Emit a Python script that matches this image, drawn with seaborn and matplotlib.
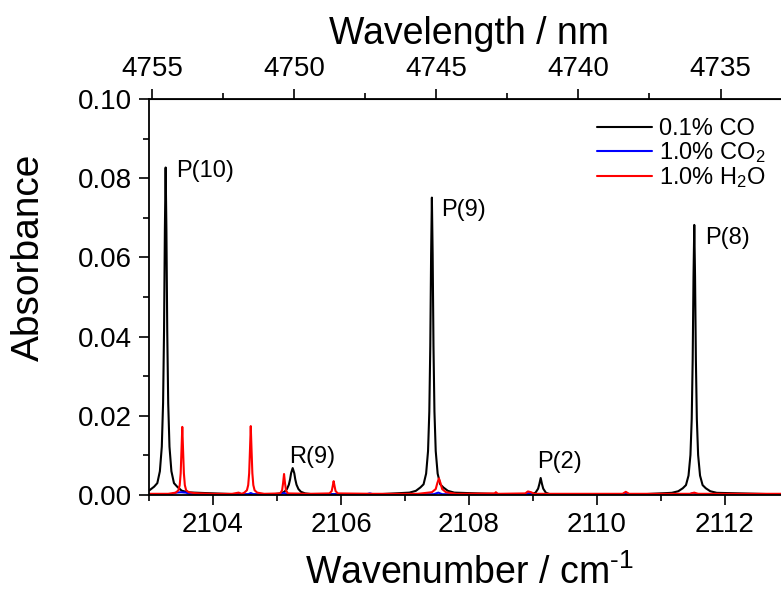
import numpy as np
import pandas as pd
import seaborn as sns
import matplotlib.pyplot as plt
from matplotlib.ticker import MultipleLocator, FixedLocator

# CO absorbance trace (vertices)
co_x = [2103.00, 2103.08, 2103.13, 2103.17, 2103.20, 2103.22, 2103.235, 2103.248, 2103.26,
        2103.272, 2103.285, 2103.30, 2103.32, 2103.35, 2103.39, 2103.44, 2103.51, 2103.61,
        2104.50,
        2104.95, 2105.05, 2105.115, 2105.155, 2105.185, 2105.205, 2105.22, 2105.245,
        2105.27, 2105.285, 2105.305, 2105.335, 2105.375, 2105.44, 2105.55,
        2106.60,
        2107.07, 2107.17, 2107.24, 2107.29, 2107.33, 2107.36, 2107.38, 2107.395, 2107.408,
        2107.42, 2107.432, 2107.445, 2107.46, 2107.48, 2107.51, 2107.55, 2107.60, 2107.67,
        2107.77, 2108.70,
        2108.98, 2109.04, 2109.08, 2109.10, 2109.12, 2109.14, 2109.16, 2109.20, 2109.26,
        2110.60,
        2111.17, 2111.27, 2111.34, 2111.39, 2111.43, 2111.46, 2111.48, 2111.495, 2111.508,
        2111.52, 2111.532, 2111.545, 2111.56, 2111.58, 2111.61, 2111.65, 2111.70, 2111.77,
        2111.87, 2113.00]
co_y = [0.0011, 0.0021, 0.0030, 0.0060, 0.0122, 0.0232, 0.0414, 0.0670, 0.0827,
        0.0670, 0.0414, 0.0232, 0.0122, 0.0060, 0.0030, 0.0021, 0.0011, 0.00066,
        0.0001,
        0.0002, 0.0004, 0.0008, 0.0015, 0.0026, 0.0040, 0.0055, 0.0068,
        0.0055, 0.0040, 0.0026, 0.0015, 0.0008, 0.0004, 0.0002,
        0.0002,
        0.0006, 0.00105, 0.0019, 0.0027, 0.0054, 0.0111, 0.0211, 0.0376, 0.0608,
        0.0751, 0.0608, 0.0376, 0.0211, 0.0111, 0.0054, 0.0027, 0.0019, 0.00105,
        0.0006, 0.0001,
        0.0002, 0.0006, 0.0016, 0.0028, 0.0043, 0.0028, 0.0016, 0.0006, 0.0002,
        0.0001,
        0.00055, 0.00095, 0.0017, 0.0025, 0.0049, 0.0101, 0.0192, 0.0341, 0.0552,
        0.0682, 0.0552, 0.0341, 0.0192, 0.0101, 0.0049, 0.0025, 0.0017, 0.00095,
        0.00055, 0.0001]

# CO2 trace
co2_x = [2103.00, 2103.35, 2103.42, 2103.50, 2103.58, 2103.65, 2104.20, 2104.55, 2104.59,
         2104.63, 2105.05, 2105.11, 2105.16, 2106.40, 2106.45, 2106.50, 2107.45, 2107.52,
         2107.58, 2108.90, 2108.95, 2109.00, 2110.40, 2110.45, 2110.50, 2111.45, 2111.50,
         2111.55, 2113.00]
co2_y = [0.0002, 0.0002, 0.0006, 0.0007, 0.0006, 0.0002, 0.0002, 0.0002, 0.0005,
         0.0002, 0.0002, 0.0005, 0.0002, 0.0002, 0.0004, 0.0002, 0.0002, 0.0006,
         0.0002, 0.0002, 0.0006, 0.0002, 0.0002, 0.0005, 0.0002, 0.0002, 0.0005,
         0.0002, 0.0002]

# H2O trace
h2o_x = [2103.00, 2103.30, 2103.42, 2103.46, 2103.48, 2103.495, 2103.508, 2103.52,
         2103.532, 2103.545, 2103.56, 2103.58, 2103.62, 2103.70, 2103.80, 2104.00, 2104.30,
         2104.40, 2104.45, 2104.49, 2104.53, 2104.55, 2104.565, 2104.578, 2104.59, 2104.602,
         2104.615, 2104.63, 2104.65, 2104.69, 2104.80, 2105.05, 2105.08, 2105.095, 2105.11,
         2105.125, 2105.14, 2105.17, 2105.50, 2105.82, 2105.855, 2105.87, 2105.885, 2105.90,
         2105.915, 2105.95, 2106.50, 2107.20, 2107.42, 2107.48, 2107.505, 2107.53, 2107.555,
         2107.58, 2107.64, 2107.80, 2108.40, 2108.42, 2108.45, 2108.88, 2108.92, 2108.97,
         2109.02, 2109.50, 2110.40, 2110.45, 2110.50, 2111.45, 2111.52, 2111.58, 2113.00]
h2o_y = [0.0003, 0.0003, 0.0006, 0.0012, 0.0025, 0.0055, 0.0115, 0.0172,
         0.0115, 0.0055, 0.0025, 0.0012, 0.0007, 0.0005, 0.0004, 0.0003, 0.0003,
         0.0006, 0.0003, 0.0006, 0.0012, 0.0025, 0.0055, 0.0115, 0.0174, 0.0115,
         0.0055, 0.0025, 0.0012, 0.0006, 0.0003, 0.0004, 0.0012, 0.0030, 0.0053,
         0.0030, 0.0012, 0.0004, 0.0003, 0.0004, 0.0010, 0.0022, 0.0035, 0.0022,
         0.0010, 0.0004, 0.0003, 0.0003, 0.0007, 0.0015, 0.0030, 0.0042, 0.0030,
         0.0015, 0.0007, 0.0003, 0.0004, 0.0007, 0.0003, 0.0004, 0.0009, 0.0007,
         0.0003, 0.0003, 0.0003, 0.0008, 0.0003, 0.0003, 0.0006, 0.0003, 0.0003]

labels = ['P(10)', 'R(9)', 'P(9)', 'P(2)', 'P(8)']
label_x = [2103.42, 2105.19, 2107.56, 2109.07, 2111.69]
label_y = [0.0817, 0.0095, 0.0720, 0.0083, 0.0650]

wl_major = [4755, 4750, 4745, 4740, 4735]
wl_minor = [4752.5, 4747.5, 4742.5, 4737.5, 4732.5]

sns.set_style('ticks')
plt.rcParams['font.family'] = ['Liberation Sans', 'DejaVu Sans']
plt.rcParams['mathtext.fontset'] = 'custom'
plt.rcParams['mathtext.rm'] = 'Liberation Sans'
plt.rcParams['mathtext.default'] = 'regular'
for key in ['text.color', 'axes.labelcolor', 'xtick.color', 'ytick.color', 'axes.edgecolor']:
    plt.rcParams[key] = 'black'

fig = plt.figure(figsize=(7.81, 6.01), dpi=100)
ax = fig.add_axes([149 / 781, 1 - 495 / 601, 640 / 781, 396 / 601])

traces = [
    (co_x, co_y, '0.1% CO', 'black'),
    (co2_x, co2_y, '1.0% CO$_2$', 'blue'),
    (h2o_x, h2o_y, '1.0% H$_2$O', 'red'),
]
for xs, ys, name, color in traces:
    df = pd.DataFrame({'x': xs, 'y': ys})
    sns.lineplot(data=df, x='x', y='y', ax=ax, sort=False, estimator=None,
                 color=color, linewidth=1.5, label=name)

for t, tx, ty in zip(labels, label_x, label_y):
    ax.text(tx, ty, t, fontsize=17, ha='left', va='center')

ax.set_xlim(2103, 2113)
ax.set_ylim(0, 0.10)
ax.xaxis.set_major_locator(MultipleLocator(2))
ax.xaxis.set_minor_locator(MultipleLocator(1))
ax.yaxis.set_major_locator(MultipleLocator(0.02))
ax.yaxis.set_minor_locator(MultipleLocator(0.01))
ax.yaxis.set_major_formatter(plt.FuncFormatter(lambda v, p: f'{v:.2f}'))
ax.tick_params(which='major', direction='out', length=7, width=1.2, labelsize=20, pad=5)
ax.tick_params(which='minor', direction='out', length=4, width=1.2)
ax.set_xlabel('Wavenumber / cm$^{\\text{-1}}$', fontsize=27, labelpad=12)
ax.set_ylabel('Absorbance', fontsize=28)
ax.yaxis.set_label_coords(-0.16, 0.6)
for s in ax.spines.values():
    s.set_linewidth(1.3)

top = ax.secondary_xaxis('top', functions=(lambda x: 1e7 / x, lambda x: 1e7 / x))
top.xaxis.set_major_locator(FixedLocator(wl_major))
top.xaxis.set_minor_locator(FixedLocator(wl_minor))
top.tick_params(which='major', direction='out', length=7, width=1.2, labelsize=20, pad=5)
top.tick_params(which='minor', direction='out', length=4, width=1.2)
top.set_xlabel('Wavelength / nm', fontsize=27, labelpad=9)

ax.legend(loc='upper right', bbox_to_anchor=(0.993, 1.0), frameon=False, fontsize=17,
          handlelength=2.3, handletextpad=0.3, labelspacing=0.0, borderaxespad=0.4)

plt.savefig('out.png', dpi=100)
